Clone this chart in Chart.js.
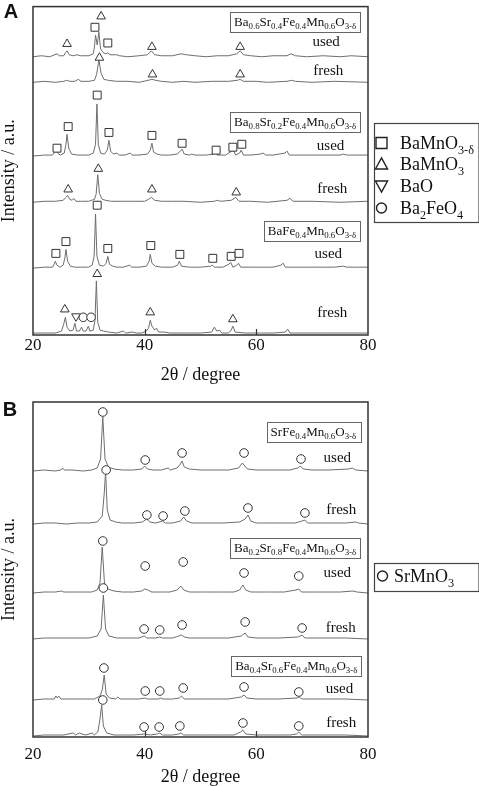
<!DOCTYPE html>
<html>
<head>
<meta charset="utf-8">
<script src="https://cdn.jsdelivr.net/npm/chart.js@4.4.0/dist/chart.umd.min.js"></script>
<style>
html, body { margin: 0; padding: 0; background: #fff; }
canvas { display: block; }
</style>
</head>
<body>
<canvas id="chartA" width="479" height="395"></canvas>
<canvas id="chartB" width="479" height="391"></canvas>
<script>
"use strict";
// x axis
var xTicks = [20, 40, 60, 80];

// ---- panel A : Ba(1-x)Sr(x)Fe0.4Mn0.6O3-d, profiles read above each baseline [2theta, counts]
var offsetsA = [283, 257, 182, 135, 68, 1];
// Ba0.6Sr0.4 used
var a1Used = [[20,0],[21.5,1],[23,0],[24.3,3],[24.7,1],[25.5,1],[25.8,4],[26.1,6],[26.5,2],[27.2,1],[27.9,2],[28.5,1],[30,1],[30.8,3],[31.0,10],[31.2,22],[31.5,12],[31.8,25],[32.1,8],[32.6,4],[33.1,3],[33.4,4],[33.8,2],[35.0,2],[35.5,1],[37,0],[39,1],[40.5,2],[41.2,6],[41.8,2],[43,1],[45,1],[46.5,3],[47.5,2],[49,1],[51,0],[53,1],[55,1],[56.5,3],[57.1,6],[57.7,2],[59,1],[61,0],[63,1],[65.5,1],[66.2,3],[67,1],[69,0],[72,1],[75,0],[77,1],[80,0]];
// Ba0.6Sr0.4 fresh
var a2Fresh = [[20,0],[22,1],[24,0],[25.5,1],[26,2],[26.6,1],[27.5,1],[28.1,3],[28.6,1],[30,1],[31,2],[31.4,8],[31.8,23],[32.2,9],[32.7,3],[33.5,2],[35,1],[37,1],[39,0],[40.6,2],[41.3,3],[42,2],[43,1],[45,0],[47,1],[49,0],[52,1],[55,1],[56.6,2],[57.1,3],[57.7,1],[60,1],[62,0],[65.5,1],[66.3,2],[67,1],[70,0],[74,1],[80,0]];
// Ba0.8Sr0.2 used
var a3Used = [[20,0],[22,1],[23.5,1],[23.9,4],[24.1,8],[24.4,3],[24.9,1],[25.6,3],[25.9,12],[26.1,22],[26.4,8],[26.9,2],[28,1],[29,1],[30,1],[30.8,3],[31.2,12],[31.45,53],[31.7,12],[32.1,3],[32.8,2],[33.3,6],[33.6,16],[33.9,5],[34.4,2],[35,3],[35.5,1],[36.5,1],[37.4,3],[37.8,1],[39,1],[40.5,2],[41,6],[41.3,13],[41.6,4],[42.2,2],[43,1],[44.5,1],[45.8,2],[46.4,5],[46.7,7],[47.1,2],[48,1],[48.4,2],[49,1],[51,1],[52.4,2],[52.7,4],[53,1],[54.5,1],[55.6,5],[55.9,6],[56.3,1],[57,3],[57.3,6],[57.7,1],[59,1],[60.7,2],[61.2,3],[61.7,1],[63,1],[65.1,3],[65.5,5],[65.9,1],[68,1],[71,1],[75,1],[75.6,2],[76.2,1],[80,1]];
// Ba0.8Sr0.2 fresh
var a4Fresh = [[20,0],[22,1],[24,1],[25.4,2],[25.9,5],[26.2,7],[26.6,3],[27.0,2],[27.3,4],[27.7,1],[28.5,1],[30,1],[31,3],[31.3,8],[31.6,28],[31.9,9],[32.4,3],[33,2],[34,1],[36,1],[38,1],[40,1],[40.7,3],[41.2,5],[41.8,2],[43,1],[45,1],[47,1],[50,0],[52.5,1],[53,2],[53.6,1],[55.5,2],[56.3,5],[56.9,1],[59,1],[62,0],[65.5,2],[66,4],[66.6,1],[70,1],[75,0],[80,1]];
// BaFe0.4Mn0.6 used
var a5Used = [[20,0],[22,1],[23.5,1],[23.8,4],[24,7],[24.3,3],[24.8,1],[25.4,3],[25.7,10],[25.9,19],[26.2,7],[26.7,2],[27.5,1],[28.5,1],[30,1],[30.6,3],[30.95,12],[31.2,55],[31.45,12],[31.9,3],[32.6,2],[33.1,5],[33.4,12],[33.7,4],[34.3,2],[35,1],[36.2,1],[37.3,3],[37.7,1],[39,1],[40.3,2],[40.8,7],[41.0,14],[41.3,5],[41.9,2],[43,1],[45,1],[45.9,3],[46.2,7],[46.6,2],[48,1],[50,1],[51.8,2],[52.1,3],[52.5,1],[54,1],[55.1,4],[55.4,6],[55.8,1],[56.5,3],[56.8,5],[57.2,1],[59,1],[61,1],[63,1],[64.4,3],[64.8,5],[65.2,1],[68,1],[71,1],[74,1],[75.6,2],[76.2,1],[80,1]];
// BaFe0.4Mn0.6 fresh
var a6Fresh = [[20,1],[22,1],[24,1],[25.1,3],[25.5,10],[25.8,17],[26.1,7],[26.6,3],[27.2,4],[27.5,11],[27.8,3],[28.3,3],[28.7,7],[29.0,3],[29.5,3],[29.9,8],[30.2,3],[30.8,4],[31.1,14],[31.35,54],[31.6,12],[32.0,4],[32.6,3],[33.5,2],[35,1],[36.2,3],[36.6,1],[37.8,2],[38.5,1],[39.5,1],[40.3,3],[40.7,6],[41.0,14],[41.3,8],[41.8,4],[42.1,6],[42.5,2],[43.5,2],[44.5,1],[46,1],[47.5,1],[50,1],[52,2],[52.5,7],[52.9,3],[53.4,4],[53.8,1],[55,1],[55.5,4],[55.8,8],[56.2,2],[58,1],[61,1],[63,1],[65.2,2],[65.6,5],[66,1],[68,1],[72,1],[76,1],[80,1]];

// phase markers, panel A [2theta, level]
var sqBaMnO3d = [[31.1,313],[33.4,297],[24.3,190],[26.3,212],[31.5,244],[33.6,206],[41.3,203],[46.7,195],[52.8,188],[55.8,191],[57.4,194],[24.1,83],[25.9,95],[31.5,132],[33.4,88],[41.1,91],[46.3,82],[52.2,78],[55.5,80],[56.9,83]];
var triBaMnO3 = [[26.1,296],[32.2,324],[41.3,293],[57.1,293],[31.9,282],[41.4,265],[57.1,265],[26.3,148],[31.7,169],[41.3,148],[56.4,145],[25.7,26],[31.5,62],[41.0,23],[55.8,16]];
var invBaO = [[27.7,19]];
var cirBa2FeO4 = [[29.0,18],[30.4,18]];

// ---- panel B : Ba(1-x)Sr(x)Fe0.4Mn0.6O3-d, Sr rich
var offsetsB = [266, 213, 144, 98, 37, 1];
// SrFe0.4Mn0.6 used
var b1Used = [[20,0],[22,1],[24,0],[25,1],[25.3,3],[25.6,1],[27,1],[29,0],[30.5,1],[31.5,3],[32.1,12],[32.5,54],[32.9,12],[33.5,4],[34.5,2],[36,1],[38,1],[39.5,2],[40.0,5],[40.5,2],[41.5,1],[43,1],[44.2,3],[44.6,1],[45.8,3],[46.4,7],[46.7,10],[47.1,4],[48,2],[50,1],[53,1],[55,1],[56.8,3],[57.5,8],[57.8,6],[58.4,2],[60,1],[63,1],[66,1],[67.4,3],[67.9,5],[68.4,2],[70,1],[73,1],[76.5,2],[77.2,3],[77.8,1],[80,0]];
// SrFe0.4Mn0.6 fresh
var b2Fresh = [[20,0],[22,1],[24,1],[26,0],[28,1],[30,1],[31.5,2],[32.4,8],[32.75,30],[33.0,52],[33.3,14],[33.8,4],[34.8,2],[36,1],[38,1],[39.6,2],[40.4,5],[40.9,2],[42,1],[43.2,3],[43.7,1],[45,1],[46.4,3],[47.0,7],[47.5,3],[48.5,1],[51,1],[54,1],[57,2],[58.0,5],[58.5,9],[59.0,3],[60,1],[64,1],[67,1],[68.2,3],[68.7,4],[69.2,1],[72,1],[76,1],[77.8,2],[78.3,1],[80,0]];
// Ba0.2Sr0.8 used
var b3Used = [[20,0],[22,1],[24,1],[25.1,2],[25.5,1],[27,1],[29,1],[30.5,1],[31.5,3],[32.0,10],[32.4,46],[32.8,10],[33.4,4],[34.5,2],[36,1],[38,1],[39.5,2],[40.0,4],[40.6,3],[41.2,1],[43,1],[44.5,1],[45.8,3],[46.5,7],[47.0,3],[48,1],[50,1],[53,1],[56,1],[57.0,3],[57.6,8],[58.1,3],[59,1],[62,1],[65,1],[67.1,3],[67.6,4],[68.1,1],[71,1],[75,1],[77.3,2],[78,1],[80,0]];
// Ba0.2Sr0.8 fresh
var b4Fresh = [[20,0],[22,1],[24,1],[26,1],[28,1],[30,1],[31.5,3],[32.2,10],[32.6,44],[33.0,10],[33.6,3],[35,1],[37,1],[39,1],[39.9,3],[40.4,1],[42,1],[42.7,2],[43.2,1],[45,1],[46.1,3],[46.6,4],[47.1,2],[48,1],[51,1],[55,1],[57.3,3],[58.0,6],[58.5,2],[60,1],[64,1],[67.5,2],[68.2,4],[68.7,1],[72,1],[76,1],[80,0]];
// Ba0.4Sr0.6 used
var b5Used = [[20,0],[22,1],[23.8,1],[24.1,4],[24.35,2],[24.6,4],[25,1],[27,1],[29,1],[31,1],[32.0,4],[32.4,10],[32.75,25],[33.1,6],[33.7,2],[34.8,1],[35.2,3],[35.6,1],[37,1],[39,1],[40.0,2],[40.5,1],[42.5,1],[42.8,2],[43.3,1],[45,1],[46.2,2],[46.6,4],[47.1,1],[49,1],[52,1],[55,1],[57.3,3],[57.8,5],[58.3,2],[60,1],[64,1],[67.3,2],[67.7,3],[68.2,1],[72,1],[76,1],[80,0]];
// Ba0.4Sr0.6 fresh
var b6Fresh = [[20,0],[22,1],[24,1],[25.5,1],[27.2,3],[27.6,1],[28.3,3],[28.8,2],[29.5,1],[30.6,3],[31.0,1],[31.6,4],[31.95,15],[32.3,31],[32.6,10],[33.2,3],[34.5,1],[36,1],[38,1],[40,2],[41,1],[42.3,2],[42.7,3],[43.2,1],[45,1],[46.1,2],[46.5,3],[47,1],[50,1],[53,1],[56,1],[57.2,4],[57.6,6],[58.1,2],[60,1],[63,1],[66,1],[67.2,2],[67.6,4],[68.1,1],[72,1],[76,1],[80,0]];

var cirSrMnO3 = [[32.5,325],[40.1,277],[46.7,284],[57.8,284],[68.0,278],[33.1,267],[40.4,222],[43.3,221],[47.2,226],[58.5,229],[68.7,224],[32.5,196],[40.1,171],[46.9,175],[57.8,164],[67.6,161],[32.6,149],[39.9,108],[42.7,107],[46.7,112],[58.0,115],[68.2,109],[32.7,69],[40.1,46],[42.7,46],[46.9,49],[57.8,50],[67.6,45],[32.5,37],[39.9,10],[42.6,10],[46.3,11],[57.6,14],[67.6,11]];

var SERIF = '"Liberation Serif", "Times New Roman", serif';
var INK = '#111';

// 'Ba_{0.6}Sr' -> [['Ba',false],['0.6',true],['Sr',false]]
function richParts(str) {
	var out = [], re = /_\{([^}]*)\}/g, last = 0, m;
	while ((m = re.exec(str))) {
		if (m.index > last) out.push([str.slice(last, m.index), false]);
		out.push([m[1], true]);
		last = re.lastIndex;
	}
	if (last < str.length) out.push([str.slice(last), false]);
	return out;
}
function richWidth(ctx, str, size) {
	var w = 0;
	richParts(str).forEach(function(p) {
		ctx.font = (p[1] ? size * 0.68 : size) + 'px ' + SERIF;
		w += ctx.measureText(p[0]).width;
	});
	return w;
}
function drawRich(ctx, str, x, y, size) {
	var cx = x;
	ctx.textAlign = 'left';
	ctx.textBaseline = 'alphabetic';
	richParts(str).forEach(function(p) {
		ctx.font = (p[1] ? size * 0.68 : size) + 'px ' + SERIF;
		ctx.fillText(p[0], cx, p[1] ? y + size * 0.26 : y);
		cx += ctx.measureText(p[0]).width;
	});
}
function drawShape(ctx, shape, x, y, s) {
	ctx.beginPath();
	if (shape === 'rect') {
		ctx.rect(x - s / 2, y - s / 2, s, s);
	} else if (shape === 'triangle') {
		ctx.moveTo(x, y - s * 0.55); ctx.lineTo(x + s * 0.55, y + s * 0.45); ctx.lineTo(x - s * 0.55, y + s * 0.45); ctx.closePath();
	} else if (shape === 'triangleDown') {
		ctx.moveTo(x, y + s * 0.55); ctx.lineTo(x + s * 0.55, y - s * 0.45); ctx.lineTo(x - s * 0.55, y - s * 0.45); ctx.closePath();
	} else {
		ctx.arc(x, y, s / 2, 0, Math.PI * 2);
	}
	ctx.stroke();
}

function deco(cfg) {
	return {
		id: 'deco',
		afterDraw: function(chart) {
			var ctx = chart.ctx, a = chart.chartArea, xs = chart.scales.x, ys = chart.scales.y;
			ctx.save();
			// frame + inner ticks
			ctx.strokeStyle = '#333';
			ctx.lineWidth = 1.5;
			ctx.strokeRect(a.left, a.top, a.right - a.left, a.bottom - a.top);
			ctx.lineWidth = 1.2;
			xTicks.forEach(function(t) {
				if (t <= 20 || t >= 80) return;
				var px = Math.round(xs.getPixelForValue(t)) + 0.5;
				ctx.beginPath(); ctx.moveTo(px, a.bottom); ctx.lineTo(px, a.bottom - 6); ctx.stroke();
			});
			// panel letter
			ctx.fillStyle = INK;
			ctx.font = 'bold 20px "Liberation Sans", Arial, sans-serif';
			ctx.textAlign = 'center'; ctx.textBaseline = 'middle';
			ctx.fillText(cfg.letter, cfg.letterAt[0], cfg.letterAt[1]);
			// composition boxes, right edge at x
			cfg.boxes.forEach(function(b) {
				var right = xs.getPixelForValue(b.x), cy = ys.getPixelForValue(b.y);
				var w = richWidth(ctx, b.text, 13);
				var left = right - w - 8;
				ctx.strokeStyle = '#666'; ctx.lineWidth = 1;
				ctx.strokeRect(Math.round(left) + 0.5, Math.round(cy - 10) + 0.5, Math.round(w + 8), 20);
				ctx.fillStyle = INK;
				drawRich(ctx, b.text, left + 4, cy + 4, 13);
			});
			// used / fresh
			ctx.fillStyle = INK;
			ctx.font = '15px ' + SERIF;
			ctx.textAlign = 'center'; ctx.textBaseline = 'middle';
			cfg.states.forEach(function(s) {
				ctx.fillText(s.text, xs.getPixelForValue(s.x), ys.getPixelForValue(s.y));
			});
			// legend box at the right
			var L = cfg.legend;
			ctx.strokeStyle = '#444'; ctx.lineWidth = 1.2;
			ctx.strokeRect(L.box[0] + 0.5, L.box[1] + 0.5, L.box[2], L.box[3]);
			L.items.forEach(function(it, i) {
				var y = L.rows[i];
				ctx.strokeStyle = '#222'; ctx.lineWidth = 1.4;
				drawShape(ctx, it.shape, L.symX, y, it.shape === 'circle' ? 10 : 11);
				ctx.fillStyle = INK;
				drawRich(ctx, it.text, L.textX, y + 6, 18);
			});
			ctx.restore();
		}
	};
}

function lineSet(points, off) {
	return {
		data: points.map(function(p) { return { x: p[0], y: p[1] + off }; }),
		borderColor: '#6e6e6e', borderWidth: 1, pointRadius: 0, tension: 0, fill: false, order: 2
	};
}
function markSet(points, style, r, rot) {
	return {
		data: points.map(function(p) { return { x: p[0], y: p[1] }; }),
		showLine: false, pointStyle: style, pointRadius: r, pointRotation: rot || 0,
		pointBorderColor: '#333', pointBackgroundColor: '#fff', pointBorderWidth: 1, order: 1
	};
}

function makePanel(id, datasets, cfg) {
	return new Chart(document.getElementById(id), {
		type: 'line',
		data: { datasets: datasets },
		options: {
			responsive: false, animation: false,
			layout: { padding: { top: cfg.padTop, right: 111, left: 0, bottom: 0 } },
			plugins: { legend: { display: false }, tooltip: { enabled: false } },
			scales: {
				x: {
					type: 'linear', min: 20, max: 80,
					grid: { display: false, drawTicks: false }, border: { display: false },
					ticks: { stepSize: 20, color: INK, padding: cfg.tickPad, font: { family: SERIF, size: 17 } },
					title: { display: true, text: '2θ / degree', color: INK, padding: { top: 0, bottom: cfg.titlePad }, font: { family: SERIF, size: 18, lineHeight: 1 } },
					afterFit: function(s) { s.height = cfg.xHeight; }
				},
				y: {
					min: 0, max: cfg.yMax,
					grid: { display: false, drawTicks: false }, border: { display: false },
					ticks: { display: false },
					title: { display: true, text: 'Intensity / a.u.', color: INK, padding: { top: 0, bottom: 0 }, font: { family: SERIF, size: 18, lineHeight: 1 } },
					afterFit: function(s) { s.width = 33; }
				}
			}
		},
		plugins: [deco(cfg)]
	});
}

var tracesA = [a1Used, a2Fresh, a3Used, a4Fresh, a5Used, a6Fresh];
var setsA = tracesA.map(function(t, i) { return lineSet(t, offsetsA[i]); });
setsA.push(markSet(sqBaMnO3d, 'rect', 5.6));
setsA.push(markSet(triBaMnO3, 'triangle', 5));
setsA.push(markSet(invBaO, 'triangle', 5, 180));
setsA.push(markSet(cirBa2FeO4, 'circle', 4.3));

makePanel('chartA', setsA, {
	padTop: 1, yMax: 334, xHeight: 60, tickPad: 0, titlePad: 11,
	letter: 'A', letterAt: [11, 12],
	boxes: [
		{ text: 'Ba_{0.6}Sr_{0.4}Fe_{0.4}Mn_{0.6}O_{3-δ}', x: 78.6, y: 318.5 },
		{ text: 'Ba_{0.8}Sr_{0.2}Fe_{0.4}Mn_{0.6}O_{3-δ}', x: 78.6, y: 217 },
		{ text: 'BaFe_{0.4}Mn_{0.6}O_{3-δ}', x: 78.6, y: 106 }
	],
	states: [
		{ text: 'used', x: 72.5, y: 298 }, { text: 'fresh', x: 72.9, y: 268 },
		{ text: 'used', x: 73.3, y: 192 }, { text: 'fresh', x: 73.6, y: 148 },
		{ text: 'used', x: 72.9, y: 82 }, { text: 'fresh', x: 73.6, y: 22 }
	],
	legend: {
		box: [374, 123, 104.5, 99], symX: 381.5, textX: 400, rows: [143, 164, 186, 208],
		items: [
			{ shape: 'rect', text: 'BaMnO_{3-δ}' },
			{ shape: 'triangle', text: 'BaMnO_{3}' },
			{ shape: 'triangleDown', text: 'BaO' },
			{ shape: 'circle', text: 'Ba_{2}FeO_{4}' }
		]
	}
});

var tracesB = [b1Used, b2Fresh, b3Used, b4Fresh, b5Used, b6Fresh];
var setsB = tracesB.map(function(t, i) { return lineSet(t, offsetsB[i]); });
setsB.push(markSet(cirSrMnO3, 'circle', 4.3));

makePanel('chartB', setsB, {
	padTop: 7, yMax: 335, xHeight: 49, tickPad: 7, titlePad: 0,
	letter: 'B', letterAt: [10, 15],
	boxes: [
		{ text: 'SrFe_{0.4}Mn_{0.6}O_{3-δ}', x: 78.6, y: 305 },
		{ text: 'Ba_{0.2}Sr_{0.8}Fe_{0.4}Mn_{0.6}O_{3-δ}', x: 78.6, y: 189.5 },
		{ text: 'Ba_{0.4}Sr_{0.6}Fe_{0.4}Mn_{0.6}O_{3-δ}', x: 78.8, y: 71.5 }
	],
	states: [
		{ text: 'used', x: 74.5, y: 279 }, { text: 'fresh', x: 75.2, y: 227 },
		{ text: 'used', x: 74.5, y: 164 }, { text: 'fresh', x: 75.1, y: 109 },
		{ text: 'used', x: 74.9, y: 48 }, { text: 'fresh', x: 75.2, y: 14 }
	],
	legend: {
		box: [374, 168, 104.5, 28], symX: 382.5, textX: 394, rows: [181],
		items: [{ shape: 'circle', text: 'SrMnO_{3}' }]
	}
});
</script>
</body>
</html>
